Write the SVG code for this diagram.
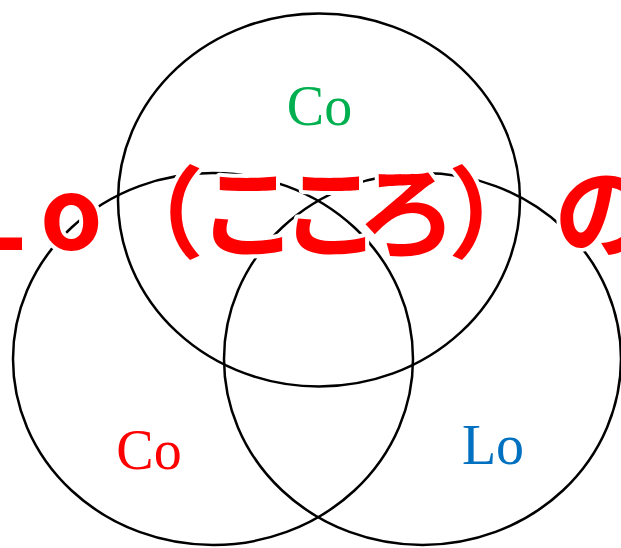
<svg xmlns="http://www.w3.org/2000/svg" width="621" height="548" viewBox="0 0 621 548">
<style>
.c{fill:none;stroke:#000;stroke-width:2.5}
.lbl{font-family:"Liberation Serif","DejaVu Serif",serif;font-size:56px;text-anchor:middle}
.big{font-family:"Noto Sans CJK JP",sans-serif;font-weight:bold;font-size:100px;fill:#FF0000;stroke:#fff;stroke-width:8;stroke-linejoin:round;paint-order:stroke}
</style>
<rect width="621" height="548" fill="#fff"/>
<g id="circles">
<g id="top"><ellipse class="c" cx="319" cy="200" rx="201" ry="186.5"/></g>
<g id="left"><ellipse class="c" cx="213" cy="359" rx="200" ry="186"/></g>
<g id="right"><ellipse class="c" cx="422.5" cy="359" rx="198.5" ry="186"/></g>
</g>
<g id="labels">
<text class="lbl" x="319.5" y="125" fill="#00B050">Co</text>
<text class="lbl" x="149" y="469" fill="#FF0000">Co</text>
<text class="lbl" x="493" y="464" fill="#0070C0">Lo</text>
</g>
<g id="title">
<text class="big" x="-32 40 104 198 281 357 448 554" y="250">Lo（こころ）の</text>
</g>
</svg>
